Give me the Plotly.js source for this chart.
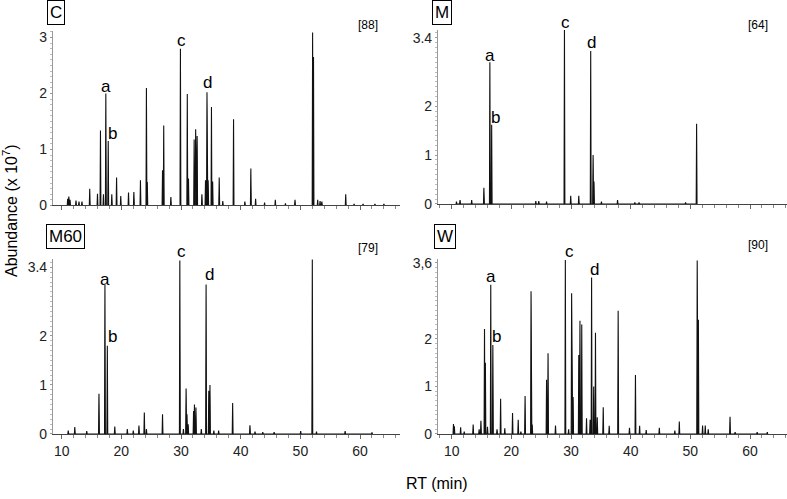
<!DOCTYPE html>
<html>
<head>
<meta charset="utf-8">
<script src="https://cdn.plot.ly/plotly-3.0.1.min.js"></script>
<style>html,body{margin:0;padding:0;background:#fff;}#chart{width:787px;height:499px;}</style>
</head>
<body>
<div id="chart"></div>
<script>
// ---- data (retention time in min, abundance in 10^7) ----
const rtC = [11.0,11.2,11.4,12.4,12.9,13.4,14.7,16.0,16.5,17.0,17.4,17.8,18.4,19.2,19.9,21.2,22.1,23.2,24.2,24.35,26.9,27.1,28.3,29.9,31.05,31.25,32.2,32.45,32.7,33.5,34.1,34.35,34.55,35.1,35.3,36.4,37.0,38.8,40.7,41.7,42.5,44.0,45.8,47.5,49.1,52.05,52.2,52.9,53.3,53.6,57.6,59.0,60.5,62.5,64.0];
const hC  = [0.12,0.16,0.1,0.09,0.07,0.07,0.3,0.21,1.34,0.2,2.0,1.15,0.2,0.5,0.17,0.23,0.24,0.45,2.1,0.42,0.63,1.43,0.15,2.8,1.99,0.48,1.18,1.36,1.24,0.2,0.45,2.02,0.45,1.76,0.43,0.5,0.08,1.54,0.07,0.66,0.12,0.05,0.1,0.04,0.1,3.09,2.65,0.1,0.08,0.07,0.2,0.03,0.03,0.03,0.03];

const rtM = [10.8,11.4,13.35,15.4,16.4,16.7,24.1,24.6,25.9,28.9,29.95,31.3,33.3,33.7,33.85,35.1,37.8,40.7,41.4,49.2,51.05];
const hM  = [0.05,0.08,0.08,0.33,2.9,1.62,0.06,0.06,0.05,3.56,0.17,0.17,3.13,1.0,0.46,0.05,0.08,0.03,0.03,0.03,1.64];

const rtM60 = [11.1,12.2,14.2,16.25,17.25,17.65,18.9,21.0,22.0,22.95,23.85,24.2,26.9,29.8,30.4,30.85,31.0,31.2,32.1,32.25,32.5,33.4,34.2,34.65,34.85,35.5,36.3,38.65,41.55,42.4,43.7,45.6,50.05,52.0,52.7,57.5,62.0];
const hM60  = [0.07,0.14,0.06,0.82,3.04,1.8,0.15,0.1,0.07,0.17,0.44,0.1,0.4,3.54,0.1,0.93,0.4,0.2,0.47,0.6,0.54,0.1,3.05,0.88,1.0,0.07,0.07,0.63,0.18,0.05,0.04,0.04,0.06,3.56,0.05,0.06,0.03];

const rtW = [10.3,10.45,11.5,12.1,13.6,14.6,14.9,15.5,15.65,16.0,16.55,16.9,17.6,18.2,18.9,20.2,21.15,21.6,22.3,23.3,23.5,25.9,26.15,27.4,29.05,29.6,30.1,30.35,31.3,31.5,31.8,32.6,33.2,33.45,33.8,34.1,34.4,35.4,36.4,37.9,39.8,40.8,41.5,42.6,44.8,47.4,48.15,51.15,51.35,52.05,52.5,53.0,56.65,57.5,61.2,62.9];
const hW  = [0.21,0.16,0.14,0.05,0.2,0.1,0.28,2.21,1.5,0.15,3.14,1.87,0.1,0.74,0.12,0.44,0.3,0.05,0.8,3.0,0.2,1.14,1.7,0.18,3.66,0.1,2.96,0.78,1.66,2.38,2.3,0.33,0.3,3.29,1.0,2.13,0.35,0.56,0.17,2.59,0.13,1.24,0.17,0.08,0.13,0.07,0.26,3.65,2.4,0.18,0.18,0.1,0.36,0.04,0.04,0.04];

const panelNames = ['C','M','M60','W'];
const peakCounts = ['[88]','[64]','[79]','[90]'];
const peakLetters = ['a','b','c','d'];
// letter label positions (rt, abundance) per panel
const letterRtC = [17.45,18.5,30.1,34.4],   letterHC = [2.12,1.29,2.94,2.2];
const letterRtM = [16.4,17.3,29.15,33.35],  letterHM = [3.03,1.77,3.71,3.31];
const letterRtM60 = [17.3,18.55,30.0,34.75],letterHM60 = [3.16,1.99,3.72,3.26];
const letterRtW = [16.6,17.55,29.7,33.9],   letterHW = [3.31,2.05,3.84,3.45];
const yTickVals = [[0,1,2,3],[0,1,2,3.4],[0,1,2,3.4],[0,1,2,3.6]];
const yTickText = [['0','1','2','3'],['0','1','2','3.4'],['0','1','2','3.4'],['0','1','2','3,6']];
const xTickVals = [10,20,30,40,50,60];

// ---- build spike traces ----
const HW = 0.07;
function spikes(rt, h){
  const idx = rt.map((v,i)=>i).sort((a,b)=>rt[a]-rt[b]);
  const x=[], y=[];
  idx.forEach(i=>{ x.push(rt[i]-HW, rt[i], rt[i]+HW); y.push(0, h[i], 0); });
  return {x, y};
}
const sets = [[rtC,hC],[rtM,hM],[rtM60,hM60],[rtW,hW]];
const axn = ['', '2', '3', '4'];
const traces = sets.map((s,k)=>{
  const p = spikes(s[0], s[1]);
  return {x:p.x, y:p.y, type:'scatter', mode:'lines', fill:'tozeroy',
    fillcolor:'#000', line:{color:'#111', width:1.1}, hoverinfo:'skip',
    xaxis:'x'+axn[k], yaxis:'y'+axn[k], showlegend:false, cliponaxis:false};
});

const fontFam = 'Liberation Sans, Arial, sans-serif';
const tickFont = {family:fontFam, size:14, color:'#222'};

const xDom = [[0.0673,0.5083],[0.5565,1.0],[0.0673,0.5083],[0.5565,1.0]];
const yDom = [[0.5882,0.9379],[0.5912,0.9399],[0.1303,0.4810],[0.1303,0.4810]];
const xRng = [[8.54,66.7],[7.70,66.2],[8.54,66.7],[7.70,66.2]];
const yRng = [[0,3.116],[0,3.56],[0,3.57],[0,3.68]];

const layout = {
  width:787, height:499, margin:{l:0,r:0,t:0,b:0},
  paper_bgcolor:'#fff', plot_bgcolor:'rgba(0,0,0,0)',
  showlegend:false, annotations:[]
};
for(let k=0;k<4;k++){
  layout['xaxis'+axn[k]] = {
    domain:xDom[k], range:xRng[k], anchor:'y'+axn[k],
    showline:true, linecolor:'#444', linewidth:1, showgrid:false, zeroline:false,
    ticks:'outside', ticklen:4, tickcolor:'#666', tickvals:xTickVals,
    showticklabels:(k>=2), tickfont:tickFont,
    minor:{ticks:'outside', dtick:2, tick0:0, ticklen:3, tickcolor:'#888', showgrid:false}
  };
  layout['yaxis'+axn[k]] = {
    domain:yDom[k], range:yRng[k], anchor:'x'+axn[k],
    showline:true, linecolor:'#999', linewidth:1, showgrid:false, zeroline:false,
    ticks:'outside', ticklen:2, tickcolor:'#999', tickvals:yTickVals[k], ticktext:yTickText[k],
    tickfont:tickFont,
    minor:{ticks:'outside', dtick:0.1, ticklen:2, tickcolor:'#bbb', showgrid:false}
  };
}

// panel name boxes and peak counts
const nameX = [56,442,65,445], nameY = [12,12,237,237];
const cntX = [368,758,368,758], cntY = [25,25,248,245];
for(let k=0;k<4;k++){
  layout.annotations.push({xref:'paper', yref:'paper', x:nameX[k]/787, y:1-nameY[k]/499,
    text:panelNames[k], showarrow:false, font:{family:fontFam, size:17, color:'#000'},
    bordercolor:'#000', borderwidth:1, borderpad:2, bgcolor:'#fff', xanchor:'center', yanchor:'middle'});
  layout.annotations.push({xref:'paper', yref:'paper', x:cntX[k]/787, y:1-cntY[k]/499,
    text:peakCounts[k], showarrow:false, font:{family:fontFam, size:12, color:'#000'},
    xanchor:'center', yanchor:'middle'});
}
// peak letters: converted from data coords to paper coords so they can sit above the axis range
const letterSets = [[letterRtC,letterHC],[letterRtM,letterHM],[letterRtM60,letterHM60],[letterRtW,letterHW]];
letterSets.forEach((ls,k)=>{
  for(let j=0;j<4;j++){
    const px = xDom[k][0] + (ls[0][j]-xRng[k][0])/(xRng[k][1]-xRng[k][0])*(xDom[k][1]-xDom[k][0]);
    const py = yDom[k][0] + (ls[1][j]-yRng[k][0])/(yRng[k][1]-yRng[k][0])*(yDom[k][1]-yDom[k][0]);
    layout.annotations.push({xref:'paper', yref:'paper', x:px, y:py,
      text:peakLetters[j], showarrow:false, font:{family:fontFam, size:17, color:'#000'},
      xanchor:'center', yanchor:'middle'});
  }
});
layout.annotations.push({xref:'paper', yref:'paper', x:10/787, y:1-211/499,
  text:'Abundance (x 10<sup>7</sup>)', textangle:-90, showarrow:false,
  font:{family:fontFam, size:16, color:'#000'}, xanchor:'center', yanchor:'middle'});
layout.annotations.push({xref:'paper', yref:'paper', x:437/787, y:1-483/499,
  text:'RT (min)', showarrow:false,
  font:{family:fontFam, size:16, color:'#000'}, xanchor:'center', yanchor:'middle'});

Plotly.newPlot('chart', traces, layout, {staticPlot:true, displayModeBar:false});
</script>
</body>
</html>
